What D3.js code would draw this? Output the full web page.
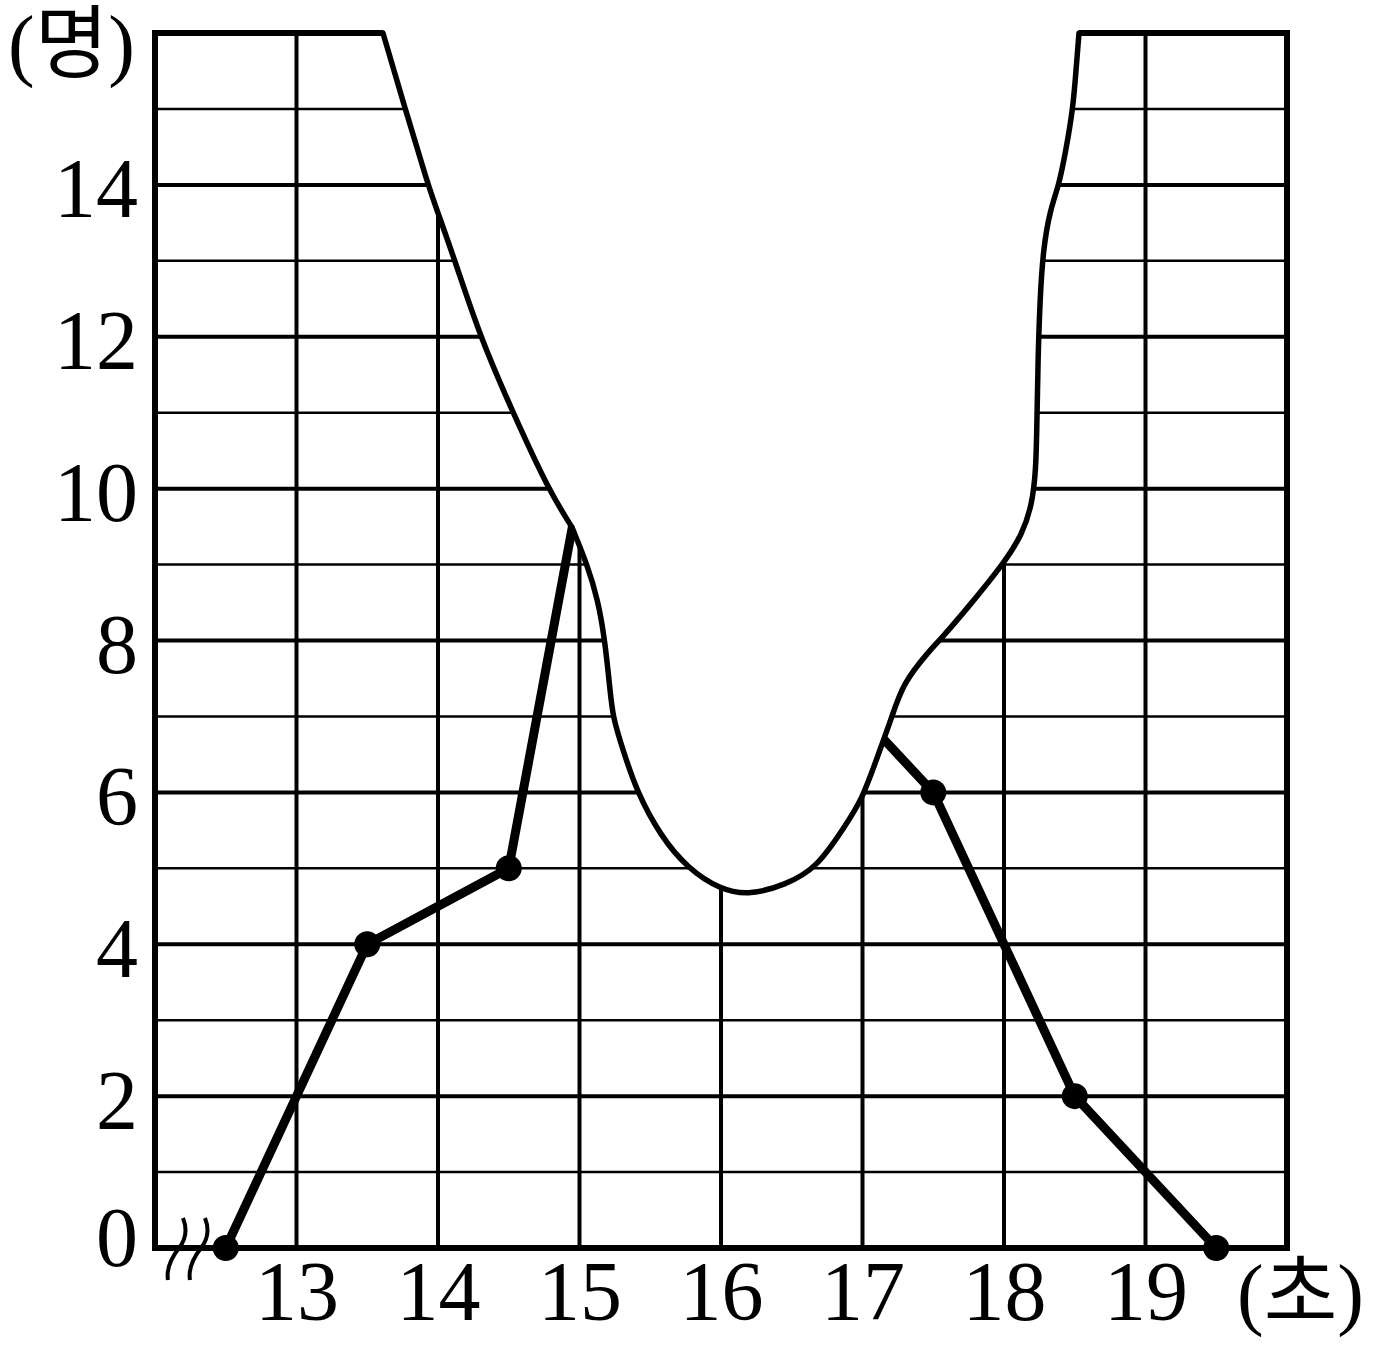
<!DOCTYPE html>
<html>
<head>
<meta charset="utf-8">
<script src="https://cdn.jsdelivr.net/npm/d3@7"></script>
<style>
  html, body { margin: 0; padding: 0; background: #fff; }
  svg { display: block; }
</style>
</head>
<body>
<svg id="chart" width="1373" height="1350"></svg>
<script>
// ---- data ----
const xTickValues = [13, 14, 15, 16, 17, 18, 19];
const yTickValues = [0, 2, 4, 6, 8, 10, 12, 14];
const classMarks = [12.5, 13.5, 14.5, 15.5, 16.5, 17.5, 18.5, 19.5];
const counts     = [0,    4,    5,    15,   8,    6,    2,    0];
const visibleDot = [true, true, true, false, false, true, true, true];
const xUnitLabel = "(초)";
const yUnitLabel = "(명)";
// torn (blank) region boundary, in data units
const tearLeftX  = [13.611, 13.767, 13.929, 14.0, 14.120, 14.297, 14.530, 14.777, 14.947];
const tearLeftY  = [16.0, 15.01, 14.0, 13.63, 13.0, 12.0, 11.0, 10.0, 9.49];
const tearRightX = [14.947, 15.053, 15.131, 15.180, 15.216, 15.235, 15.307, 15.406, 15.569, 15.760, 16.0, 16.205, 16.452, 16.678, 16.876, 16.996, 17.110, 17.208, 17.286, 17.477, 17.548, 17.760, 18.0, 18.127, 18.198, 18.226, 18.233, 18.240, 18.254, 18.276, 18.325, 18.389, 18.438, 18.488, 18.509, 18.530];
const tearRightY = [9.49, 9.007, 8.533, 7.993, 7.348, 6.992, 6.558, 6.005, 5.438, 5.004, 4.714, 4.648, 4.780, 5.004, 5.557, 5.899, 6.492, 6.992, 7.440, 7.875, 8.006, 8.467, 9.020, 9.389, 9.784, 10.245, 10.903, 11.693, 12.484, 13.142, 13.669, 13.998, 14.459, 15.012, 15.512, 16.0];

// ---- layout ----
const svg = d3.select("#chart");
const x = d3.scaleLinear().domain([12, 20]).range([155, 1287]);
const y = d3.scaleLinear().domain([0, 16]).range([1248, 33]);
const serif = "'Liberation Serif', 'DejaVu Serif', serif";
const korean = "'Liberation Serif', 'Noto Sans CJK KR', serif";

// grid
const grid = svg.append("g").attr("stroke", "#000");
grid.selectAll("line.v").data(d3.range(13, 20)).join("line")
  .attr("x1", d => x(d)).attr("x2", d => x(d))
  .attr("y1", y(0)).attr("y2", y(16)).attr("stroke-width", 4);
grid.selectAll("line.h").data(d3.range(1, 16)).join("line")
  .attr("x1", x(12)).attr("x2", x(20))
  .attr("y1", d => y(d)).attr("y2", d => y(d))
  .attr("stroke-width", d => d % 2 === 0 ? 4 : 2.6);

// frame
svg.append("rect")
  .attr("x", x(12)).attr("y", y(16))
  .attr("width", x(20) - x(12)).attr("height", y(0) - y(16))
  .attr("fill", "none").attr("stroke", "#000").attr("stroke-width", 6);

// polygon
const pts = classMarks.map((c, i) => [c, counts[i], visibleDot[i]]);
svg.append("path")
  .attr("d", d3.line().x(d => x(d[0])).y(d => y(d[1]))(pts))
  .attr("fill", "none").attr("stroke", "#000").attr("stroke-width", 9)
  .attr("stroke-linejoin", "miter");
svg.selectAll("circle.dot").data(pts.filter(d => d[2])).join("circle")
  .attr("cx", d => x(d[0])).attr("cy", d => y(d[1])).attr("r", 13).attr("fill", "#000");

// torn region
const left = tearLeftX.map((v, i) => [v, tearLeftY[i]]);
const right = tearRightX.map((v, i) => [v, tearRightY[i]]);
const curve = d3.line().x(d => x(d[0])).y(d => y(d[1])).curve(d3.curveBasis);
const dLeft = curve(left);
const dRight = curve(right);
const fillD = dLeft + dRight.replace(/^M/, "L") +
  "L" + x(tearRightX[tearRightX.length - 1]) + "," + (y(16) - 12) +
  "L" + x(tearLeftX[0]) + "," + (y(16) - 12) + "Z";
svg.append("path").attr("d", fillD).attr("fill", "#fff").attr("stroke", "none");
svg.append("path").attr("d", dLeft).attr("fill", "none").attr("stroke", "#000").attr("stroke-width", 5.5).attr("stroke-linecap", "round");
svg.append("path").attr("d", dRight).attr("fill", "none").attr("stroke", "#000").attr("stroke-width", 5.5).attr("stroke-linecap", "round");

// axes labels
const yAxis = svg.append("g").attr("transform", `translate(${x(12)},0)`)
  .call(d3.axisLeft(y).tickValues(yTickValues).tickSize(0).tickPadding(17).tickFormat(d3.format("d")));
yAxis.select(".domain").remove();
yAxis.selectAll("text")
  .attr("font-family", serif).attr("font-size", 84).attr("fill", "#000")
  .attr("dy", d => d === 0 ? 17 : 32);

const xAxis = svg.append("g").attr("transform", `translate(0,${y(0)})`)
  .call(d3.axisBottom(x).tickValues(xTickValues).tickSize(0).tickFormat(d3.format("d")));
xAxis.select(".domain").remove();
xAxis.selectAll("text")
  .attr("font-family", serif).attr("font-size", 84).attr("fill", "#000")
  .attr("y", 0).attr("dy", 72);

// unit labels
svg.append("text").attr("x", 1237).attr("y", y(0) + 72)
  .attr("font-family", korean).attr("font-size", 80).text(xUnitLabel);
svg.append("text").attr("x", 8).attr("y", y(16) + 38)
  .attr("font-family", korean).attr("font-size", 80).text(yUnitLabel);

// axis break mark
const bx = x(12) + 28, by = y(0);
[0, 22].forEach(off => {
  const cx = bx + off;
  svg.append("path")
    .attr("d", `M${cx},${by - 30} C${cx + 4},${by - 20} ${cx + 3},${by - 9} ${cx - 4},${by} S${cx - 17},${by + 20} ${cx - 15},${by + 32}`)
    .attr("fill", "none").attr("stroke", "#000").attr("stroke-width", 4);
});
</script>
</body>
</html>
